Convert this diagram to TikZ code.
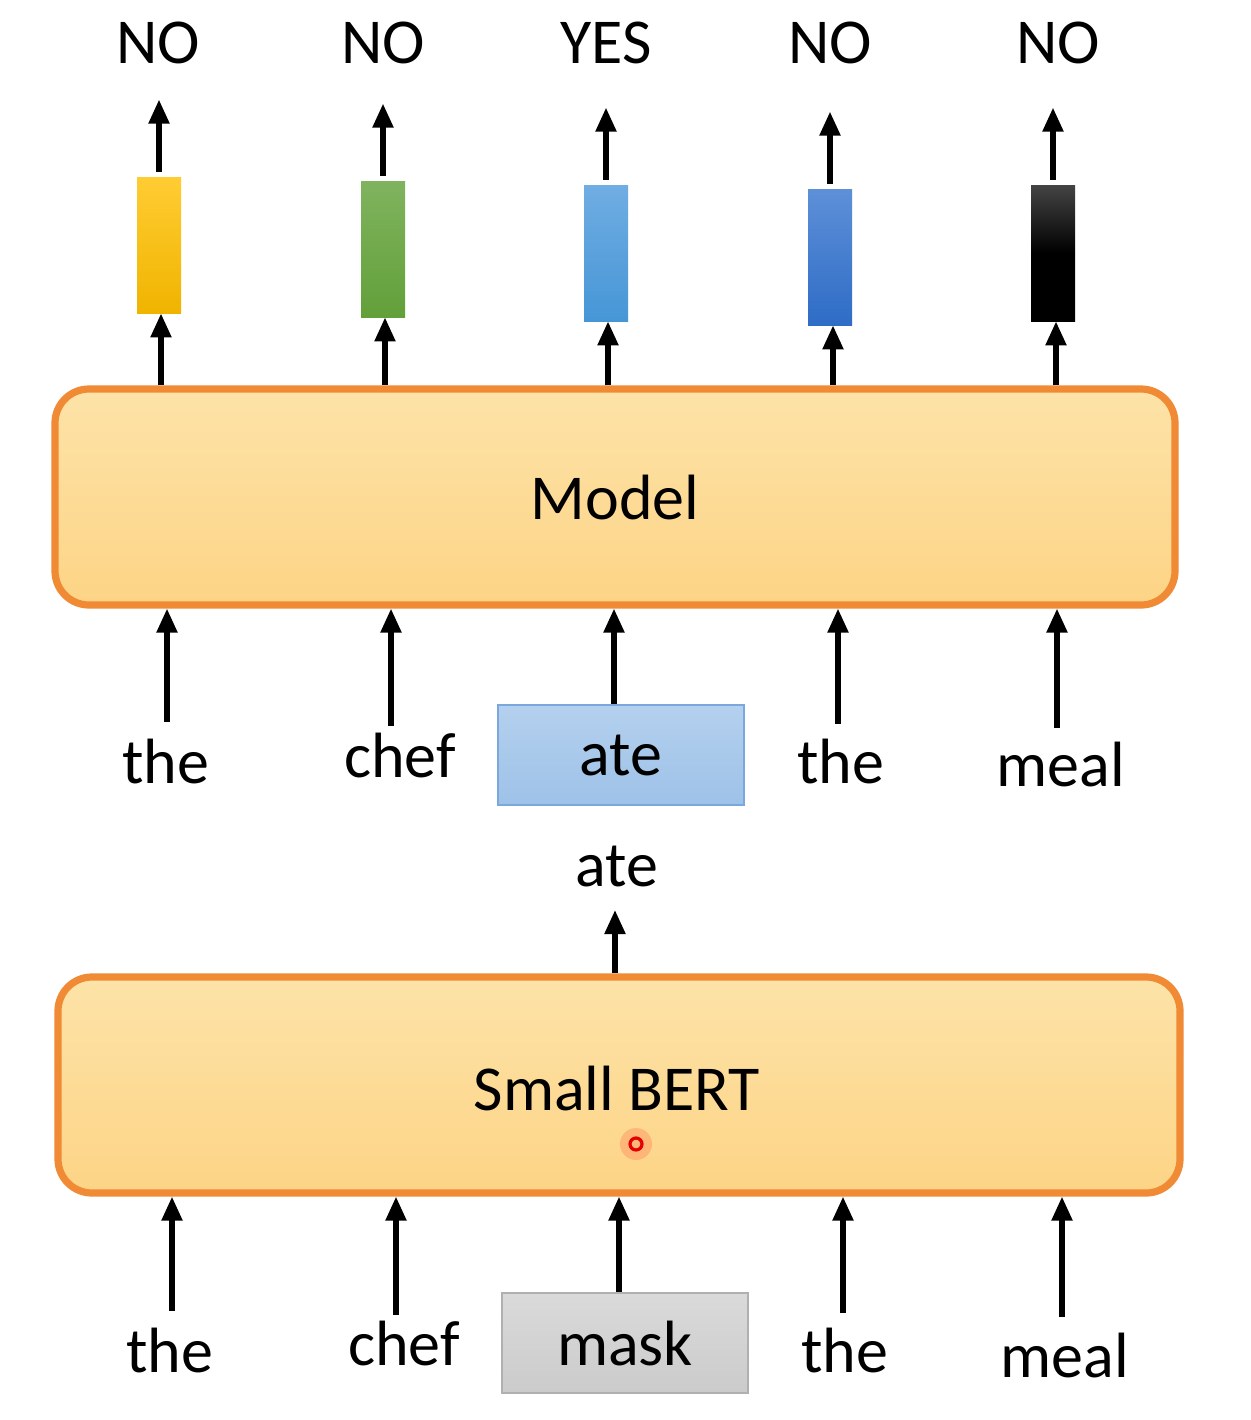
\documentclass[tikz,border=0pt]{standalone}
\usepackage{fontspec}
\setmainfont{Carlito}
\usetikzlibrary{arrows.meta}
\definecolor{boxorange}{HTML}{F08A34}
\definecolor{boxfilltop}{HTML}{FDE3A8}
\definecolor{boxfillbot}{HTML}{FDD486}
\definecolor{yelt}{HTML}{FFCC33}
\definecolor{yelb}{HTML}{F0B400}
\definecolor{grnt}{HTML}{80B35E}
\definecolor{grnb}{HTML}{62A03A}
\definecolor{lbt}{HTML}{70ADE3}
\definecolor{lbb}{HTML}{4696D6}
\definecolor{blt}{HTML}{5E90D8}
\definecolor{blb}{HTML}{2E6CC6}
\definecolor{blkt}{HTML}{444444}
\definecolor{atedraw}{HTML}{7AA8DC}
\definecolor{atet}{HTML}{B4D0EE}
\definecolor{ateb}{HTML}{9EC2E8}
\definecolor{maskdraw}{HTML}{B0B0B0}
\definecolor{maskt}{HTML}{DADADA}
\definecolor{maskb}{HTML}{CBCBCB}
\tikzset{
  lbl/.style={font=\fontsize{32}{38}\selectfont, inner sep=0pt, anchor=center},
  arr/.style={-{Triangle[width=10pt,length=12pt]}, line width=2.6pt, black},
  bigbox/.style={draw=boxorange, line width=3.6pt, rounded corners=17pt,
    top color=boxfilltop, bottom color=boxfillbot, minimum width=560pt,
    minimum height=108pt, inner sep=0pt, font=\fontsize{32}{38}\selectfont},
  vec/.style={minimum width=22pt, minimum height=68pt, inner sep=0pt},
  tokbox/.style={minimum width=123pt, minimum height=50pt, inner sep=0pt,
    font=\fontsize{32}{38}\selectfont}
}
\begin{document}
\begin{tikzpicture}[x=0.5pt,y=-0.5pt]
\useasboundingbox[fill=white] (0,0) rectangle (1250,1420);

% output labels
\node[lbl] (o1) at (158,43) {NO};
\node[lbl] (o2) at (383,43) {NO};
\node[lbl] (o3) at (606,43) {YES};
\node[lbl] (o4) at (830,43) {NO};
\node[lbl] (o5) at (1058,43) {NO};

% output vectors
\node[vec, top color=yelt, bottom color=yelb] (v1) at (159,245) {};
\node[vec, top color=grnt, bottom color=grnb] (v2) at (383,249) {};
\node[vec, top color=lbt, bottom color=lbb] (v3) at (606,253) {};
\node[vec, top color=blt, bottom color=blb] (v4) at (830,257) {};
\node[vec, top color=blkt, bottom color=black, middle color=black] (v5) at (1053,253) {};

% Model
\node[bigbox] (model) at (615,497) {Model};

% arrows vectors -> labels
\foreach \i in {1,...,5}{
  \draw[arr] (v\i.north) ++(0,-5) coordinate (t\i) -- ++(0,-72) coordinate (u\i);
}
% arrows model -> vectors
\draw[arr] (model.north -| 161,0) -- (v1.south -| 161,0);
\draw[arr] (model.north -| 385,0) -- (v2.south -| 385,0);
\draw[arr] (model.north -| 608,0) -- (v3.south -| 608,0);
\draw[arr] (model.north -| 833,0) -- (v4.south -| 833,0);
\draw[arr] (model.north -| 1056,0) -- (v5.south -| 1056,0);

% inputs to model
\node[lbl] (w1) at (166,762) {the};
\node[lbl] (w2) at (400,755) {chef};
\node[tokbox, draw=atedraw, line width=0.8pt, top color=atet, bottom color=ateb] (w3) at (621,755) {ate};
\node[lbl] (w4) at (841,762) {the};
\node[lbl] (w5) at (1061,765) {meal};

\coordinate (a1) at (167,722);
\coordinate (a2) at (391,726);
\coordinate (a4) at (838,724);
\coordinate (a5) at (1057,728);
\draw[arr] (a1) -- (a1 |- model.south);
\draw[arr] (a2) -- (a2 |- model.south);
\draw[arr] (w3.north -| 614,0) -- (model.south -| 614,0);
\draw[arr] (a4) -- (a4 |- model.south);
\draw[arr] (a5) -- (a5 |- model.south);

% predicted word
\node[lbl] (pred) at (617,866) {ate};

% Small BERT
\node[bigbox, minimum width=561pt] (bert) at (619,1085) {};
\node[lbl] (bertlbl) at (617,1088) {Small BERT};
\draw[arr] (bert.north -| 615,0) -- (615,910);

% laser pointer dot
\fill[red, opacity=0.15] (636,1144) circle[radius=16];
\draw[red!90!black, line width=1.6pt] (636,1144) circle[radius=6];

% inputs to small BERT
\node[lbl] (b1) at (170,1350) {the};
\node[lbl] (b2) at (404,1343) {chef};
\node[tokbox, draw=maskdraw, line width=0.8pt, top color=maskt, bottom color=maskb] (b3) at (625,1343) {mask};
\node[lbl] (b4) at (845,1350) {the};
\node[lbl] (b5) at (1065,1355) {meal};

\coordinate (c1) at (172,1311);
\coordinate (c2) at (396,1315);
\coordinate (c4) at (843,1313);
\coordinate (c5) at (1062,1317);
\draw[arr] (c1) -- (c1 |- bert.south);
\draw[arr] (c2) -- (c2 |- bert.south);
\draw[arr] (b3.north -| 619,0) -- (bert.south -| 619,0);
\draw[arr] (c4) -- (c4 |- bert.south);
\draw[arr] (c5) -- (c5 |- bert.south);
\end{tikzpicture}
\end{document}
